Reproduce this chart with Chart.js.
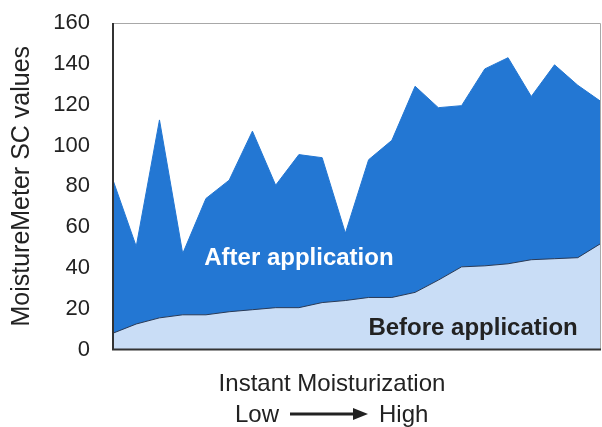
<!DOCTYPE html>
<html>
<head>
<meta charset="utf-8">
<script src="https://cdn.jsdelivr.net/npm/chart.js@4/dist/chart.umd.min.js"></script>
<style>
  html, body { margin: 0; padding: 0; background: #fff; }
  .chart { width: 602px; height: 427px; }
</style>
</head>
<body>
<div class="chart"><canvas id="chart" width="602" height="427"></canvas></div>
<script>
// one entry per subject, ordered by instant moisturization (low -> high)
const subjects = ['1','2','3','4','5','6','7','8','9','10','11','12','13','14','15','16','17','18','19','20','21','22'];
const afterValues = [83, 50.5, 112.5, 47, 74, 83, 107, 80.5, 95.5, 94, 57, 93, 102.5, 129, 118.5, 119.5, 137.5, 143, 124, 139.5, 129.5, 121.5];
const beforeValues = [8, 12.5, 15.5, 17, 17, 18.5, 19.5, 20.5, 20.5, 23, 24, 25.5, 25.5, 28, 34, 40.5, 41, 42, 44, 44.5, 45, 52];

const FONT = '"Liberation Sans", Arial, sans-serif';
const DARK = '#2377d3';
const LIGHT = '#c9ddf6';

const annotations = {
    id: 'annotations',
    afterDatasetsDraw(chart) {
        const { ctx, chartArea: a, scales: { x, y } } = chart;
        ctx.save();
        // frame round the plot
        ctx.strokeStyle = '#a8a8a8';
        ctx.lineWidth = 1;
        ctx.beginPath();
        ctx.moveTo(a.left, a.top + 0.5);
        ctx.lineTo(a.right - 0.5, a.top + 0.5);
        ctx.lineTo(a.right - 0.5, a.bottom);
        ctx.stroke();
        ctx.strokeStyle = '#333';
        ctx.lineWidth = 2;
        ctx.beginPath();
        ctx.moveTo(a.left, a.top);
        ctx.lineTo(a.left, a.bottom);
        ctx.lineTo(a.right, a.bottom);
        ctx.stroke();

        ctx.font = 'bold 24px ' + FONT;
        ctx.textBaseline = 'alphabetic';
        ctx.fillStyle = '#fff';
        ctx.textAlign = 'center';
        ctx.fillText('After application', x.getPixelForValue(8), y.getPixelForValue(41.5));
        ctx.fillStyle = '#222';
        ctx.textAlign = 'right';
        ctx.fillText('Before application', x.getPixelForValue(20), y.getPixelForValue(7));
        ctx.restore();
    },
    afterDraw(chart) {
        const { ctx } = chart;
        ctx.save();
        ctx.fillStyle = '#222';
        ctx.font = '24px ' + FONT;
        ctx.textBaseline = 'middle';
        ctx.textAlign = 'center';
        ctx.fillText('Instant Moisturization', 332, 384);
        ctx.textAlign = 'right';
        ctx.fillText('Low', 279, 415);
        ctx.textAlign = 'left';
        ctx.fillText('High', 379, 415);
        // arrow
        ctx.strokeStyle = '#222';
        ctx.lineWidth = 3;
        ctx.beginPath();
        ctx.moveTo(290, 414);
        ctx.lineTo(356, 414);
        ctx.stroke();
        ctx.beginPath();
        ctx.moveTo(353, 408);
        ctx.lineTo(368, 414);
        ctx.lineTo(353, 420);
        ctx.closePath();
        ctx.fill();
        ctx.restore();
    }
};

new Chart(document.getElementById('chart'), {
    type: 'line',
    data: {
        labels: subjects,
        datasets: [
            {
                label: 'Before application',
                data: beforeValues,
                borderColor: '#2a3a55',
                borderWidth: 1,
                backgroundColor: LIGHT,
                fill: 'origin',
                pointRadius: 0,
                tension: 0
            },
            {
                label: 'After application',
                data: afterValues,
                borderColor: DARK,
                borderWidth: 1,
                backgroundColor: DARK,
                fill: 'origin',
                pointRadius: 0,
                tension: 0
            }
        ]
    },
    options: {
        responsive: false,
        animation: false,
        devicePixelRatio: 1,
        layout: { padding: { left: 0, top: 23, right: 1, bottom: 0 } },
        plugins: {
            legend: { display: false },
            tooltip: { enabled: false }
        },
        scales: {
            x: {
                type: 'category',
                offset: false,
                grid: { display: false, drawTicks: false },
                border: { display: false },
                ticks: { display: false },
                afterFit: (scale) => { scale.height = 77.5; }
            },
            y: {
                min: 0,
                max: 160,
                grid: { display: false, drawTicks: false },
                border: { display: false },
                ticks: {
                    stepSize: 20,
                    padding: 23,
                    color: '#222',
                    font: { family: FONT, size: 22 }
                },
                title: {
                    display: true,
                    text: 'MoistureMeter SC values',
                    color: '#222',
                    padding: { top: 7, bottom: 0 },
                    font: { family: FONT, size: 25 }
                },
                afterFit: (scale) => {
                    scale.width = 113;
                    scale.paddingTop = 0;
                    scale.paddingBottom = 0;
                }
            }
        }
    },
    plugins: [annotations]
});
</script>
</body>
</html>
